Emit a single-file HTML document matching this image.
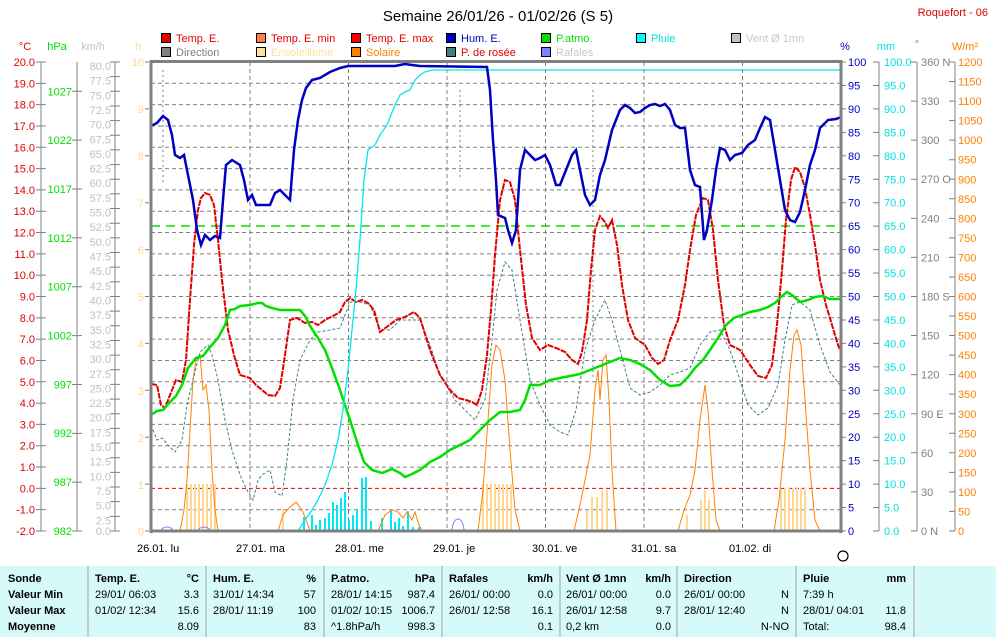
<!DOCTYPE html>
<html><head><meta charset="utf-8"><style>
body{margin:0;background:#fff;width:996px;height:637px;overflow:hidden;font-family:"Liberation Sans",sans-serif}
svg{display:block}
text{font-family:"Liberation Sans",sans-serif}
</style></head><body>
<svg width="996" height="637" viewBox="0 0 996 637" xmlns="http://www.w3.org/2000/svg">
<rect width="996" height="637" fill="#fff"/>
<text x="498" y="21" font-size="15" text-anchor="middle" fill="#000">Semaine 26/01/26 - 01/02/26 (S 5)</text>
<text x="988" y="16" font-size="11" text-anchor="end" fill="#e00000">Roquefort - 06</text>
<g font-size="11">
<rect x="161.5" y="33.5" width="9" height="9" fill="#e00000" stroke="#000"/><text x="176" y="42" fill="#e00000">Temp. E.</text>
<rect x="256.5" y="33.5" width="9" height="9" fill="#ff8040" stroke="#000"/><text x="271" y="42" fill="#e00000">Temp. E. min</text>
<rect x="351.5" y="33.5" width="9" height="9" fill="#ff0000" stroke="#000"/><text x="366" y="42" fill="#e00000">Temp. E. max</text>
<rect x="446.5" y="33.5" width="9" height="9" fill="#0000c0" stroke="#000"/><text x="461" y="42" fill="#0000c0">Hum. E.</text>
<rect x="541.5" y="33.5" width="9" height="9" fill="#00e000" stroke="#000"/><text x="556" y="42" fill="#00e000">P.atmo.</text>
<rect x="636.5" y="33.5" width="9" height="9" fill="#00ffff" stroke="#000"/><text x="651" y="42" fill="#00e0e0">Pluie</text>
<rect x="731.5" y="33.5" width="9" height="9" fill="#c0c0c0" stroke="#000"/><text x="746" y="42" fill="#c8c8c8">Vent Ø 1mn</text>
<rect x="161.5" y="47.5" width="9" height="9" fill="#808080" stroke="#000"/><text x="176" y="56" fill="#808080">Direction</text>
<rect x="256.5" y="47.5" width="9" height="9" fill="#ffe0a0" stroke="#000"/><text x="271" y="56" fill="#ffe0a0">Ensoleilleme</text>
<rect x="351.5" y="47.5" width="9" height="9" fill="#ff8000" stroke="#000"/><text x="366" y="56" fill="#ff8000">Solaire</text>
<rect x="446.5" y="47.5" width="9" height="9" fill="#408080" stroke="#000"/><text x="461" y="56" fill="#e00000">P. de rosée</text>
<rect x="541.5" y="47.5" width="9" height="9" fill="#8080ff" stroke="#000"/><text x="556" y="56" fill="#c8c8c8">Rafales</text>
</g>
<g font-size="11">
<text x="25" y="50" text-anchor="middle" fill="#e00000">°C</text>
<text x="57" y="50" text-anchor="middle" fill="#00e000">hPa</text>
<text x="93" y="50" text-anchor="middle" fill="#c0c0c0">km/h</text>
<text x="138" y="50" text-anchor="middle" fill="#ffd890">h</text>
<text x="845" y="50" text-anchor="middle" fill="#0000c0">%</text>
<text x="886" y="50" text-anchor="middle" fill="#00e0e0">mm</text>
<text x="917" y="48" text-anchor="middle" fill="#808080">°</text>
<text x="965" y="50" text-anchor="middle" fill="#ff8000">W/m²</text>
</g>
<g stroke="#808080" stroke-width="1" stroke-dasharray="4,3">
<path d="M151 83.3H841M151 104.6H841M151 126H841M151 147.3H841M151 168.6H841M151 189.9H841M151 211.2H841M151 232.5H841M151 253.9H841M151 275.2H841M151 296.5H841M151 317.8H841M151 339.1H841M151 360.5H841M151 381.8H841M151 403.1H841M151 424.4H841M151 445.7H841M151 467.1H841M151 509.7H841"/>
<path d="M250 62V531M348.5 62V531M447 62V531M545.5 62V531M644 62V531M742.5 62V531"/>
</g>
<path d="M151 488.4H841" stroke="#e00000" stroke-dasharray="4,3"/>
<path d="M151 226H841" stroke="#00e000" stroke-width="1.5" stroke-dasharray="9,6"/>
<path d="M163 70V185M593 90V380M460 90V180" stroke="#808080" stroke-dasharray="2,3"/>
<g fill="#ffd890">
<rect x="186" y="484" width="2" height="47"/><rect x="190" y="484" width="2" height="47"/><rect x="194" y="484" width="2" height="47"/><rect x="198" y="484" width="2" height="47"/><rect x="202" y="484" width="2" height="47"/><rect x="206" y="484" width="2" height="47"/><rect x="210" y="484" width="2" height="47"/><rect x="214" y="484" width="2" height="47"/>
<rect x="282" y="509" width="2" height="22"/>
<rect x="482" y="484" width="2" height="47"/><rect x="486" y="484" width="2" height="47"/><rect x="490" y="484" width="2" height="47"/><rect x="494" y="484" width="2" height="47"/><rect x="498" y="484" width="2" height="47"/><rect x="502" y="484" width="2" height="47"/><rect x="506" y="484" width="2" height="47"/><rect x="510" y="484" width="2" height="47"/>
<rect x="586" y="510" width="2" height="21"/><rect x="591" y="497" width="2" height="34"/><rect x="596" y="497" width="2" height="34"/><rect x="601" y="490" width="2" height="41"/><rect x="606" y="490" width="2" height="41"/>
<rect x="686" y="515" width="2" height="16"/><rect x="700" y="500" width="2" height="31"/><rect x="704" y="490" width="2" height="41"/><rect x="708" y="500" width="2" height="31"/>
<rect x="780" y="490" width="2" height="41"/><rect x="784" y="488" width="2" height="43"/><rect x="788" y="488" width="2" height="43"/><rect x="792" y="488" width="2" height="43"/><rect x="796" y="488" width="2" height="43"/><rect x="800" y="488" width="2" height="43"/><rect x="804" y="488" width="2" height="43"/>
</g>
<g fill="#00e8f0">
<rect x="303" y="517" width="2" height="14"/><rect x="311" y="515" width="2" height="16"/><rect x="315" y="525" width="2" height="6"/><rect x="319" y="520" width="2" height="11"/><rect x="324" y="518" width="2" height="13"/><rect x="328" y="513" width="2" height="18"/><rect x="332" y="502" width="2" height="29"/><rect x="336" y="505" width="2" height="26"/><rect x="340" y="498" width="2" height="33"/><rect x="344" y="492" width="2" height="39"/><rect x="348" y="520" width="2" height="11"/><rect x="352" y="515" width="2" height="16"/><rect x="356" y="509" width="2" height="22"/><rect x="361" y="478" width="2" height="53"/><rect x="365" y="477" width="2" height="54"/><rect x="370" y="521" width="2" height="10"/>
<rect x="381" y="518" width="2" height="13"/><rect x="390" y="511" width="2" height="20"/><rect x="394" y="522" width="2" height="9"/><rect x="398" y="518" width="2" height="13"/><rect x="402" y="526" width="2" height="5"/><rect x="407" y="511" width="2" height="20"/><rect x="412" y="527" width="2" height="4"/><rect x="418" y="527" width="2" height="4"/>
</g>
<polyline fill="none" stroke="#ff8000" stroke-width="1" points="180,531 184,510 187,480 190,430 193,380 196,360 200,355 203,390 206,385 209,410 212,470 215,510 218,531 278,531 283,515 290,507 296,502 302,510 308,525 310,531 378,531 385,515 392,510 398,512 403,518 407,512 412,520 415,512 419,525 422,531 478,531 483,490 488,420 492,365 496,345 500,350 505,380 510,450 515,510 520,531 574,531 580,505 585,480 590,455 595,390 598,370 600,400 603,360 606,355 609,400 612,470 616,531 678,531 684,510 690,495 695,470 700,420 705,385 708,410 712,470 716,520 720,531 774,531 779,500 785,440 790,370 794,335 797,330 801,345 805,400 810,470 815,520 820,531"/>
<path d="M161 531a6 4 0 0 1 12 0M198 531a6 4 0 0 1 12 0M452 531a6 12 0 0 1 12 0M836 531a6 4 0 0 1 8 0" fill="none" stroke="#8080ff"/>
<polyline fill="none" stroke="#408080" stroke-width="1" stroke-dasharray="3,2" points="151,425 157,440 162,438 168,445 175,452 182,440 187,405 193,380 200,352 208,345 212,355 218,380 225,420 232,450 240,475 248,492 253,500 258,480 262,475 270,470 275,492 282,496 287,460 293,400 300,360 310,340 318,332 330,330 340,328 350,302 360,302 370,305 380,330 390,330 400,320 420,320 430,345 440,375 455,400 465,410 475,420 485,400 492,340 497,290 505,262 512,270 520,320 530,380 540,405 550,425 560,432 568,435 576,410 585,350 595,320 605,300 612,320 620,350 630,388 640,395 650,392 660,385 670,375 680,372 690,368 700,345 710,332 720,330 730,350 740,380 748,405 758,415 768,408 778,385 785,340 792,305 800,302 810,310 820,345 830,372 840,385"/>
<polyline fill="none" stroke="#e00000" stroke-width="2" stroke-dasharray="6,1" points="151,384 157,385 161,405 165,408 170,395 176,380 182,382 186,360 190,300 194,245 198,210 201,198 205,193 210,195 214,205 218,240 222,280 228,330 234,355 240,375 250,378 256,385 262,390 268,395 275,396 280,388 285,355 290,320 297,318 305,323 312,322 318,325 325,320 333,316 340,312 345,302 350,298 356,302 362,300 368,303 374,310 380,332 388,326 396,320 405,317 414,312 420,318 430,350 440,375 450,390 458,398 466,400 472,402 477,405 482,390 487,355 491,310 495,255 500,200 505,180 510,182 515,200 520,250 526,305 532,338 540,350 548,345 556,348 565,352 572,360 578,364 582,352 587,320 591,270 595,230 600,216 605,222 608,228 612,220 617,245 622,285 628,320 635,338 645,345 652,358 658,364 664,360 670,340 678,320 685,285 690,250 696,215 703,198 708,200 713,230 718,280 724,325 730,345 740,350 750,365 758,376 766,378 772,365 777,325 782,270 786,220 791,180 795,167 800,172 805,188 810,215 815,245 820,280 826,305 832,325 838,345 841,352"/>
<polyline fill="none" stroke="#00e000" stroke-width="2.5" points="151,415 157,411 163,410 170,402 176,396 182,385 188,368 196,358 203,356 210,347 218,338 225,325 230,310 235,309 240,306 250,305 258,303 262,303 266,306 272,308 280,310 294,310 300,310 305,316 310,326 318,338 325,350 332,368 340,390 350,420 358,445 364,462 372,470 382,473 392,469 400,473 405,477 412,474 420,470 430,462 440,457 450,450 460,445 470,440 480,430 490,420 500,412 510,412 520,410 525,400 530,385 540,385 550,380 560,378 570,376 580,374 590,370 600,366 610,362 620,358 630,360 640,364 650,370 660,380 670,386 680,385 688,377 695,368 703,360 710,350 718,338 726,325 734,318 742,315 750,312 760,310 768,307 775,303 782,296 787,292 792,295 800,302 808,300 815,297 822,296 830,299 841,299"/>
<polyline fill="none" stroke="#00e8f0" stroke-width="1.3" points="151,531 298,531 305,520 312,510 318,500 325,485 332,465 338,440 343,410 348,370 352,330 356,290 360,240 364,180 368,150 375,145 380,135 387,125 395,105 400,95 405,92 410,90 415,80 420,75 425,72 432,70 841,70"/>
<polyline fill="none" stroke="#0000c0" stroke-width="2.5" points="151,126 157,123 163,116 168,120 172,135 175,155 180,158 184,155 188,175 193,200 197,230 201,245 205,235 210,240 215,236 220,238 223,200 226,165 232,160 240,165 244,180 248,200 252,195 256,205 262,205 270,205 275,193 280,190 285,195 290,200 294,150 298,120 302,100 306,88 312,80 320,78 330,72 340,68 348,66 380,66 395,66 405,64 412,65 420,66 487,67 490,90 493,140 496,180 498,215 505,218 508,230 512,243 516,230 520,170 525,150 530,155 535,160 540,158 545,155 550,165 556,185 560,185 566,170 572,155 576,150 580,170 585,195 590,205 595,200 600,175 605,160 612,130 620,110 625,105 630,108 635,113 640,112 645,108 650,105 655,104 660,106 665,104 670,110 675,125 680,128 685,128 690,170 695,185 700,187 704,240 707,230 712,200 716,170 720,148 725,150 730,160 735,155 742,153 748,145 755,140 760,128 765,117 770,120 775,150 780,180 785,210 790,220 795,222 800,212 805,190 810,165 815,150 820,128 828,120 836,119 841,117"/>
<g stroke="#808080" fill="none">
<path d="M151 60V533M151 61.5H842M841 60V533M150 531H842" stroke-width="3"/>
<path d="M41 62V531M77 62V531M115 62V531M879 62V531M917 62V531M955 62V531"/>
<path d="M41 61.5V532" stroke-width="10" stroke-dasharray="1,20.318"/>
<path d="M77 90.8V532" stroke-width="10" stroke-dasharray="1,47.86"/>
<path d="M115 61.5V532" stroke-width="10" stroke-dasharray="1,13.656"/>
<path d="M844 61.5V532" stroke-width="4" stroke-dasharray="1,22.45"/>
<path d="M876 61.5V532" stroke-width="6" stroke-dasharray="1,22.45"/>
<path d="M914 61.5V532" stroke-width="6" stroke-dasharray="1,38.08"/>
<path d="M952 61.5V532" stroke-width="6" stroke-dasharray="1,18.54"/>
<path d="M147 61.5V532" stroke-width="4" stroke-dasharray="1,45.9"/>
</g>
<g font-size="11" fill="#e00000" text-anchor="end">
<text x="35" y="66">20.0</text><text x="35" y="87.3">19.0</text><text x="35" y="108.6">18.0</text><text x="35" y="130">17.0</text><text x="35" y="151.3">16.0</text><text x="35" y="172.6">15.0</text><text x="35" y="193.9">14.0</text><text x="35" y="215.2">13.0</text><text x="35" y="236.5">12.0</text><text x="35" y="257.9">11.0</text><text x="35" y="279.2">10.0</text><text x="35" y="300.5">9.0</text><text x="35" y="321.8">8.0</text><text x="35" y="343.1">7.0</text><text x="35" y="364.5">6.0</text><text x="35" y="385.8">5.0</text><text x="35" y="407.1">4.0</text><text x="35" y="428.4">3.0</text><text x="35" y="449.7">2.0</text><text x="35" y="471.1">1.0</text><text x="35" y="492.4">0.0</text><text x="35" y="513.7">-1.0</text><text x="35" y="535">-2.0</text>
</g>
<g font-size="11" fill="#00e000" text-anchor="end">
<text x="72" y="95.3">1027</text><text x="72" y="144.1">1022</text><text x="72" y="193">1017</text><text x="72" y="241.8">1012</text><text x="72" y="290.7">1007</text><text x="72" y="339.5">1002</text><text x="72" y="388.4">997</text><text x="72" y="437.2">992</text><text x="72" y="486">987</text><text x="72" y="535">982</text>
</g>
<g font-size="11" fill="#c0c0c0" text-anchor="end">
<text x="111" y="70">80.0</text><text x="111" y="84.7">77.5</text><text x="111" y="99.3">75.0</text><text x="111" y="114">72.5</text><text x="111" y="128.6">70.0</text><text x="111" y="143.3">67.5</text><text x="111" y="157.9">65.0</text><text x="111" y="172.6">62.5</text><text x="111" y="187.2">60.0</text><text x="111" y="201.9">57.5</text><text x="111" y="216.6">55.0</text><text x="111" y="231.2">52.5</text><text x="111" y="245.9">50.0</text><text x="111" y="260.5">47.5</text><text x="111" y="275.2">45.0</text><text x="111" y="289.8">42.5</text><text x="111" y="304.5">40.0</text><text x="111" y="319.2">37.5</text><text x="111" y="333.8">35.0</text><text x="111" y="348.5">32.5</text><text x="111" y="363.1">30.0</text><text x="111" y="377.8">27.5</text><text x="111" y="392.4">25.0</text><text x="111" y="407.1">22.5</text><text x="111" y="421.7">20.0</text><text x="111" y="436.4">17.5</text><text x="111" y="451">15.0</text><text x="111" y="465.7">12.5</text><text x="111" y="480.4">10.0</text><text x="111" y="495">7.5</text><text x="111" y="509.7">5.0</text><text x="111" y="524.3">2.5</text><text x="111" y="535">0.0</text>
</g>
<g font-size="11" fill="#ffd890" text-anchor="end">
<text x="144" y="66">10</text><text x="144" y="113">9</text><text x="144" y="160">8</text><text x="144" y="207">7</text><text x="144" y="254">6</text><text x="144" y="301">5</text><text x="144" y="348">4</text><text x="144" y="395">3</text><text x="144" y="442">2</text><text x="144" y="489">1</text><text x="144" y="535">0</text>
</g>
<g font-size="11" fill="#0000c0">
<text x="848" y="66">100</text><text x="848" y="89.5">95</text><text x="848" y="112.9">90</text><text x="848" y="136.4">85</text><text x="848" y="159.8">80</text><text x="848" y="183.3">75</text><text x="848" y="206.7">70</text><text x="848" y="230.2">65</text><text x="848" y="253.6">60</text><text x="848" y="277.1">55</text><text x="848" y="300.5">50</text><text x="848" y="324">45</text><text x="848" y="347.4">40</text><text x="848" y="370.9">35</text><text x="848" y="394.3">30</text><text x="848" y="417.8">25</text><text x="848" y="441.2">20</text><text x="848" y="464.7">15</text><text x="848" y="488.1">10</text><text x="848" y="511.6">5</text><text x="848" y="535">0</text>
</g>
<g font-size="11" fill="#00e0e0">
<text x="884" y="66">100.0</text><text x="884" y="89.5">95.0</text><text x="884" y="112.9">90.0</text><text x="884" y="136.4">85.0</text><text x="884" y="159.8">80.0</text><text x="884" y="183.3">75.0</text><text x="884" y="206.7">70.0</text><text x="884" y="230.2">65.0</text><text x="884" y="253.6">60.0</text><text x="884" y="277.1">55.0</text><text x="884" y="300.5">50.0</text><text x="884" y="324">45.0</text><text x="884" y="347.4">40.0</text><text x="884" y="370.9">35.0</text><text x="884" y="394.3">30.0</text><text x="884" y="417.8">25.0</text><text x="884" y="441.2">20.0</text><text x="884" y="464.7">15.0</text><text x="884" y="488.1">10.0</text><text x="884" y="511.6">5.0</text><text x="884" y="535">0.0</text>
</g>
<g font-size="11" fill="#808080">
<text x="921" y="66">360 N</text><text x="921" y="105">330</text><text x="921" y="144.2">300</text><text x="921" y="183.2">270 O</text><text x="921" y="222.3">240</text><text x="921" y="261.4">210</text><text x="921" y="300.5">180 S</text><text x="921" y="339.6">150</text><text x="921" y="378.7">120</text><text x="921" y="417.8">90 E</text><text x="921" y="456.8">60</text><text x="921" y="495.9">30</text><text x="921" y="535">0 N</text>
</g>
<g font-size="11" fill="#ff8000">
<text x="958" y="66">1200</text><text x="958" y="85.5">1150</text><text x="958" y="105.1">1100</text><text x="958" y="124.6">1050</text><text x="958" y="144.2">1000</text><text x="958" y="163.7">950</text><text x="958" y="183.3">900</text><text x="958" y="202.8">850</text><text x="958" y="222.3">800</text><text x="958" y="241.9">750</text><text x="958" y="261.4">700</text><text x="958" y="281">650</text><text x="958" y="300.5">600</text><text x="958" y="320">550</text><text x="958" y="339.6">500</text><text x="958" y="359.1">450</text><text x="958" y="378.7">400</text><text x="958" y="398.2">350</text><text x="958" y="417.8">300</text><text x="958" y="437.3">250</text><text x="958" y="456.8">200</text><text x="958" y="476.4">150</text><text x="958" y="495.9">100</text><text x="958" y="515.5">50</text><text x="958" y="535">0</text>
</g>
<g font-size="11" fill="#000">
<text x="137" y="552">26.01. lu</text><text x="236" y="552">27.01. ma</text><text x="335" y="552">28.01. me</text><text x="433" y="552">29.01. je</text><text x="532" y="552">30.01. ve</text><text x="631" y="552">31.01. sa</text><text x="729" y="552">01.02. di</text>
</g>
<circle cx="843" cy="556" r="5" fill="none" stroke="#000" stroke-width="1.2"/>
<rect x="0" y="566" width="996" height="71" fill="#d6fafa"/>
<path d="M88 566V637M206 566V637M324 566V637M442 566V637M560 566V637M677 566V637M796 566V637M914 566V637" stroke="#a0a0a0" stroke-width="1"/>
<g font-size="11" font-weight="bold" fill="#000">
<text x="8" y="582">Sonde</text><text x="8" y="598">Valeur Min</text><text x="8" y="614">Valeur Max</text><text x="8" y="630">Moyenne</text>
<text x="95" y="582">Temp. E.</text><text x="199" y="582" text-anchor="end">°C</text>
<text x="213" y="582">Hum. E.</text><text x="316" y="582" text-anchor="end">%</text>
<text x="331" y="582">P.atmo.</text><text x="435" y="582" text-anchor="end">hPa</text>
<text x="449" y="582">Rafales</text><text x="553" y="582" text-anchor="end">km/h</text>
<text x="566" y="582">Vent Ø 1mn</text><text x="671" y="582" text-anchor="end">km/h</text>
<text x="684" y="582">Direction</text>
<text x="803" y="582">Pluie</text><text x="906" y="582" text-anchor="end">mm</text>
</g>
<g font-size="11" fill="#000">
<text x="95" y="598">29/01/  06:03</text><text x="199" y="598" text-anchor="end">3.3</text>
<text x="95" y="614">01/02/  12:34</text><text x="199" y="614" text-anchor="end">15.6</text>
<text x="199" y="630" text-anchor="end">8.09</text>
<text x="213" y="598">31/01/  14:34</text><text x="316" y="598" text-anchor="end">57</text>
<text x="213" y="614">28/01/  11:19</text><text x="316" y="614" text-anchor="end">100</text>
<text x="316" y="630" text-anchor="end">83</text>
<text x="331" y="598">28/01/  14:15</text><text x="435" y="598" text-anchor="end">987.4</text>
<text x="331" y="614">01/02/  10:15</text><text x="435" y="614" text-anchor="end">1006.7</text>
<text x="331" y="630">^1.8hPa/h</text><text x="435" y="630" text-anchor="end">998.3</text>
<text x="449" y="598">26/01/  00:00</text><text x="553" y="598" text-anchor="end">0.0</text>
<text x="449" y="614">26/01/  12:58</text><text x="553" y="614" text-anchor="end">16.1</text>
<text x="553" y="630" text-anchor="end">0.1</text>
<text x="566" y="598">26/01/  00:00</text><text x="671" y="598" text-anchor="end">0.0</text>
<text x="566" y="614">26/01/  12:58</text><text x="671" y="614" text-anchor="end">9.7</text>
<text x="566" y="630">0,2 km</text><text x="671" y="630" text-anchor="end">0.0</text>
<text x="684" y="598">26/01/  00:00</text><text x="789" y="598" text-anchor="end">N</text>
<text x="684" y="614">28/01/  12:40</text><text x="789" y="614" text-anchor="end">N</text>
<text x="789" y="630" text-anchor="end">N-NO</text>
<text x="803" y="598">7:39 h</text>
<text x="803" y="614">28/01/  04:01</text><text x="906" y="614" text-anchor="end">11.8</text>
<text x="803" y="630">Total:</text><text x="906" y="630" text-anchor="end">98.4</text>
</g>
</svg>
</body></html>
